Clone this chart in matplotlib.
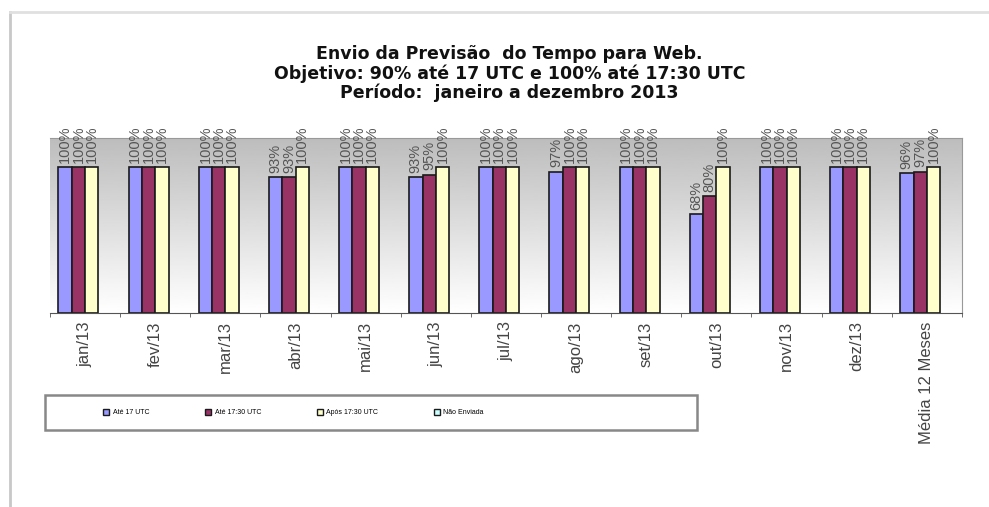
import numpy as np
import matplotlib.pyplot as plt
from matplotlib.lines import Line2D
from matplotlib.patches import Rectangle

meses = ['jan/13', 'fev/13', 'mar/13', 'abr/13', 'mai/13', 'jun/13', 'jul/13',
         'ago/13', 'set/13', 'out/13', 'nov/13', 'dez/13', 'Média 12 Meses']
ate_17 = [100, 100, 100, 93, 100, 93, 100, 97, 100, 68, 100, 100, 96]
ate_1730 = [100, 100, 100, 93, 100, 95, 100, 100, 100, 80, 100, 100, 97]
apos_1730 = [100, 100, 100, 100, 100, 100, 100, 100, 100, 100, 100, 100, 100]
nao_enviada = [0, 0, 0, 0, 0, 0, 0, 0, 0, 0, 0, 0, 0]

series = [('Até 17 UTC', ate_17, '#9999ff'),
          ('Até 17:30 UTC', ate_1730, '#993366'),
          ('Após 17:30 UTC', apos_1730, '#ffffcc'),
          ('Não Enviada', nao_enviada, '#ccffff')]

plt.rcParams['font.family'] = ['Liberation Sans', 'DejaVu Sans']

fig = plt.figure(figsize=(9.89, 5.07), dpi=100)
ax = fig.add_axes([0.0506, 0.3826, 0.922, 0.345])

x = np.arange(len(meses))
w = 0.19

# gray gradient background of the plot area
grad = np.linspace(0.74, 1.0, 256).reshape(-1, 1)
ax.imshow(grad, cmap='gray', vmin=0, vmax=1, aspect='auto',
          extent=[-0.5, len(meses) - 0.5, 0, 120], origin='upper', zorder=0)

for i, (nome, vals, cor) in enumerate(series):
    pos = x - 1.5 * w + i * w
    lw = 1.2 if i < 3 else 0
    barras = ax.bar(pos, vals, w, color=cor, edgecolor='#1a1a1a', linewidth=lw,
                    label=nome, zorder=2)
    if i < 3:
        ax.bar_label(barras, labels=[f'{v}%' for v in vals], rotation=90,
                     padding=3, fontsize=10.5, color='#555555')

ax.set_xlim(-0.5, len(meses) - 0.5)
ax.set_ylim(0, 120)
ax.set_yticks([])
ax.set_xticks(x)
ax.set_xticklabels(meses, rotation=90, fontsize=12, color='#444444')
ax.tick_params(axis='x', which='major', length=0, pad=6)
ax.set_xticks(np.arange(len(meses) + 1) - 0.5, minor=True)
ax.tick_params(axis='x', which='minor', length=3, direction='out', color='#555555')
ax.spines['left'].set_visible(False)
ax.spines['bottom'].set_color('#555555')
ax.spines['top'].set_color('#999999')
ax.spines['right'].set_color('#999999')

fig.text(0.515, 0.911, 'Envio da Previsão  do Tempo para Web.\n'
         'Objetivo: 90% até 17 UTC e 100% até 17:30 UTC\n'
         'Período:  janeiro a dezembro 2013',
         ha='center', va='top', fontsize=12.5, fontweight='bold',
         family='DejaVu Sans', linespacing=1.08, color='#111111')

# legend box
fig.add_artist(Rectangle((0.0455, 0.152), 0.659, 0.069, transform=fig.transFigure,
                         facecolor='white', edgecolor='#888888', linewidth=1.8))
leg = fig.legend(loc='center left', bbox_to_anchor=(0.098, 0.1865),
                 ncol=4, fontsize=5, frameon=False,
                 handlelength=0.9, handleheight=0.9, handletextpad=0.5,
                 columnspacing=8)
for h in leg.legend_handles:
    h.set_edgecolor('#1a1a1a')
    h.set_linewidth(1)

fig.add_artist(Line2D([0.0101, 0.0101], [0.0, 0.976], color='#c8c8c8', lw=2))
fig.add_artist(Line2D([0.0101, 1.0], [0.976, 0.976], color='#e0e0e0', lw=2))

fig.savefig('out.png', dpi=100)
